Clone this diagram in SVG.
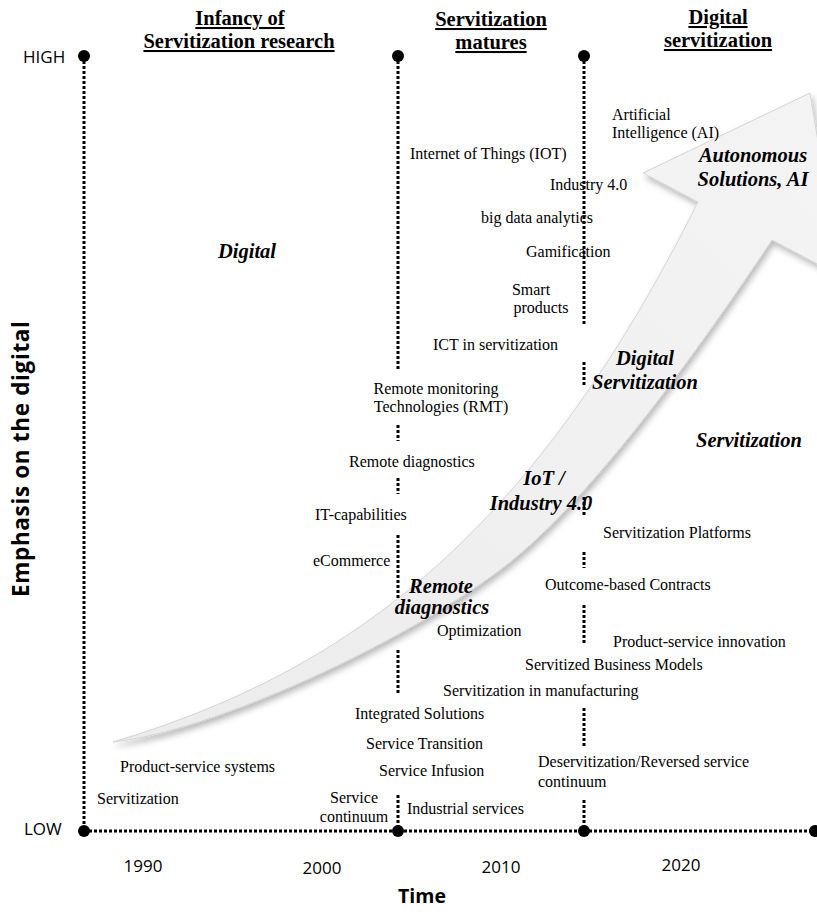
<svg xmlns="http://www.w3.org/2000/svg" width="817" height="919" viewBox="0 0 817 919">
<style>
.lbl{font-family:"Liberation Serif","Times New Roman",serif;font-size:16px;fill:#000}
.bi{font-family:"Liberation Serif","Times New Roman",serif;font-size:20.5px;font-weight:bold;font-style:italic;fill:#000}
.hdr{font-family:"Liberation Serif","Times New Roman",serif;font-size:20.5px;font-weight:bold;fill:#000;text-decoration:underline}
.ax{font-family:"Open Sans","Noto Sans",sans-serif;font-size:17px;fill:#000}
.axt{font-family:"Open Sans","Noto Sans",sans-serif;font-size:19.5px;font-weight:bold;fill:#000}
.dot{stroke:#000;stroke-width:3;stroke-dasharray:3 2;fill:none}
</style>
<defs>
<filter id="sh" x="-10%" y="-10%" width="130%" height="130%">
<feDropShadow dx="2" dy="4" stdDeviation="3" flood-color="#000" flood-opacity="0.28"/>
</filter>
<linearGradient id="ag" x1="0" y1="1" x2="1" y2="0">
<stop offset="0" stop-color="#ececec"/>
<stop offset="1" stop-color="#f4f4f4"/>
</linearGradient>
</defs>
<rect width="817" height="919" fill="#fff"/>

<g id="arrow">
<path d="M113,742 C343,673 528,542 698,202 L643,173 L810,93 L840,276 L772,240 C702,345 590,503 500,570 C400,645 213,731 113,742 Z" fill="url(#ag)" stroke="#d4d4d4" stroke-width="1" filter="url(#sh)"/>
</g>

<g id="connectors">
<line class="dot" x1="84" y1="56" x2="84" y2="831"/>
<line class="dot" x1="84" y1="831" x2="815" y2="831"/>
<line class="dot" x1="398" y1="56" x2="398" y2="370"/>
<line class="dot" x1="398" y1="425" x2="398" y2="441"/>
<line class="dot" x1="398" y1="478" x2="398" y2="494"/>
<line class="dot" x1="398" y1="535" x2="398" y2="598"/>
<line class="dot" x1="398" y1="650" x2="398" y2="695"/>
<line class="dot" x1="398" y1="795" x2="398" y2="831"/>
<line class="dot" x1="584" y1="56" x2="584" y2="325"/>
<line class="dot" x1="584" y1="362" x2="584" y2="385"/>
<line class="dot" x1="584" y1="497" x2="584" y2="516"/>
<line class="dot" x1="584" y1="552" x2="584" y2="568"/>
<line class="dot" x1="584" y1="605" x2="584" y2="645"/>
<line class="dot" x1="584" y1="708" x2="584" y2="746"/>
<line class="dot" x1="584" y1="800" x2="584" y2="831"/>
<circle cx="84" cy="56" r="6"/>
<circle cx="398" cy="56" r="6"/>
<circle cx="584" cy="56" r="6"/>
<circle cx="84" cy="831" r="6"/>
<circle cx="398" cy="831" r="6"/>
<circle cx="584" cy="831" r="6"/>
<circle cx="815" cy="831" r="6"/>
</g>

<g id="headers">
<text class="hdr" x="240" y="25" text-anchor="middle">Infancy of</text>
<text class="hdr" x="239" y="48" text-anchor="middle">Servitization research</text>
<text class="hdr" x="491" y="26" text-anchor="middle">Servitization</text>
<text class="hdr" x="491" y="49" text-anchor="middle">matures</text>
<text class="hdr" x="718" y="24" text-anchor="middle">Digital</text>
<text class="hdr" x="718" y="47" text-anchor="middle">servitization</text>
</g>

<g id="axes">
<text class="ax" x="23" y="63">HIGH</text>
<text class="ax" x="24" y="835">LOW</text>
<text class="ax" x="143" y="872" text-anchor="middle">1990</text>
<text class="ax" x="322" y="874" text-anchor="middle">2000</text>
<text class="ax" x="501" y="873" text-anchor="middle">2010</text>
<text class="ax" x="681" y="871" text-anchor="middle">2020</text>
<text class="axt" x="422" y="903" text-anchor="middle">Time</text>
<text class="axt" style="font-size:22.5px" transform="translate(29,459) rotate(-90)" text-anchor="middle" textLength="276" lengthAdjust="spacing">Emphasis on the digital</text>
</g>

<g id="stages">
<text class="bi" x="247" y="258" text-anchor="middle">Digital</text>
<text class="bi" x="753" y="162" text-anchor="middle">Autonomous</text>
<text class="bi" x="753" y="186" text-anchor="middle">Solutions, AI</text>
<text class="bi" x="645" y="365" text-anchor="middle">Digital</text>
<text class="bi" x="645" y="389" text-anchor="middle">Servitization</text>
<text class="bi" x="544" y="485" text-anchor="middle">IoT /</text>
<text class="bi" x="541" y="510" text-anchor="middle">Industry 4.0</text>
<text class="bi" x="441" y="593" text-anchor="middle">Remote</text>
<text class="bi" x="442" y="614" text-anchor="middle">diagnostics</text>
<text class="bi" x="749" y="447" text-anchor="middle">Servitization</text>
</g>

<g id="concepts">
<text class="lbl" x="612" y="120">Artificial</text>
<text class="lbl" x="612" y="138">Intelligence (AI)</text>
<text class="lbl" x="410" y="159">Internet of Things (IOT)</text>
<text class="lbl" x="550" y="190">Industry 4.0</text>
<text class="lbl" x="481" y="223">big data analytics</text>
<text class="lbl" x="526" y="257">Gamification</text>
<text class="lbl" x="531" y="295" text-anchor="middle">Smart</text>
<text class="lbl" x="541" y="313" text-anchor="middle">products</text>
<text class="lbl" x="433" y="350">ICT in servitization</text>
<text class="lbl" x="436" y="394" text-anchor="middle">Remote monitoring</text>
<text class="lbl" x="441" y="412" text-anchor="middle">Technologies (RMT)</text>
<text class="lbl" x="349" y="467">Remote diagnostics</text>
<text class="lbl" x="315" y="520">IT-capabilities</text>
<text class="lbl" x="313" y="566">eCommerce</text>
<text class="lbl" x="437" y="636">Optimization</text>
<text class="lbl" x="603" y="538">Servitization Platforms</text>
<text class="lbl" x="545" y="590">Outcome-based Contracts</text>
<text class="lbl" x="613" y="647">Product-service innovation</text>
<text class="lbl" x="525" y="670">Servitized Business Models</text>
<text class="lbl" x="443" y="696">Servitization in manufacturing</text>
<text class="lbl" x="355" y="719">Integrated Solutions</text>
<text class="lbl" x="366" y="749">Service Transition</text>
<text class="lbl" x="379" y="776">Service Infusion</text>
<text class="lbl" x="354" y="803" text-anchor="middle">Service</text>
<text class="lbl" x="354" y="822" text-anchor="middle">continuum</text>
<text class="lbl" x="407" y="814">Industrial services</text>
<text class="lbl" x="538" y="767">Deservitization/Reversed service</text>
<text class="lbl" x="538" y="787">continuum</text>
<text class="lbl" x="120" y="772">Product-service systems</text>
<text class="lbl" x="97" y="804">Servitization</text>
</g>
</svg>
